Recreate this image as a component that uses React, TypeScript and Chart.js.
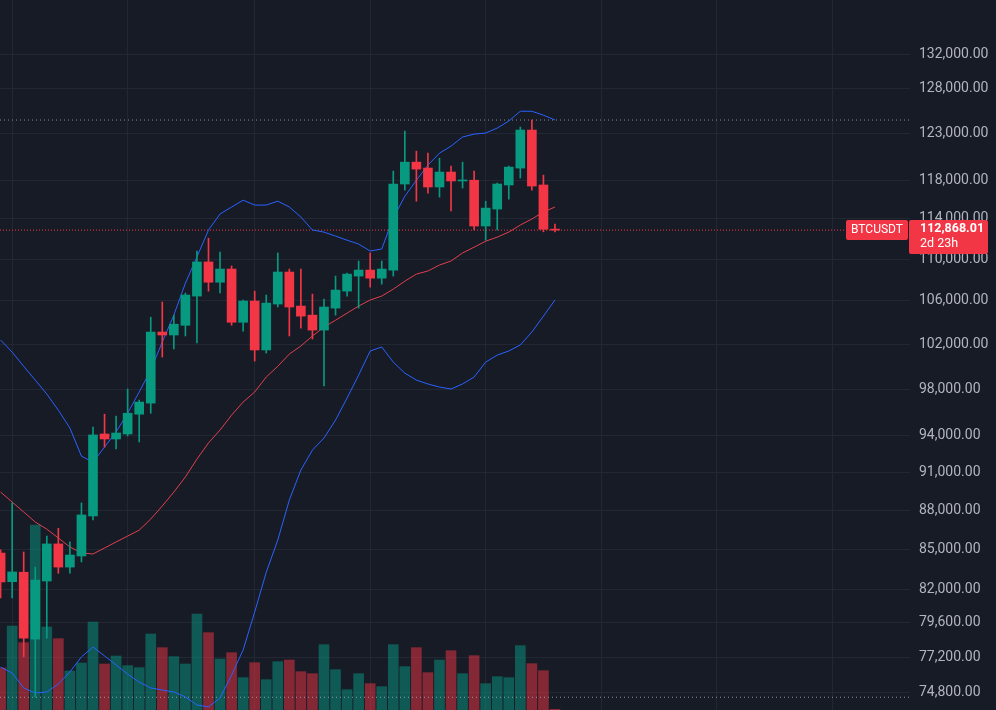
import React, { useEffect, useRef } from 'react';
import { Chart, registerables } from 'chart.js';

Chart.register(...registerables);

// ---- data (3-day candles, BTCUSDT) ----
const opens = [84700, 82570, 83270, 78460, 82620, 85390, 83650, 84480, 87540, 94160, 93740, 94160, 95830, 96780, 103090, 102820, 103710, 106440, 109720, 107760, 109030, 103990, 105970, 101460, 105690, 108740, 105500, 104650, 103270, 105310, 106910, 108350, 108930, 108150, 108930, 117590, 119900, 119270, 117280, 118850, 117910, 117990, 113280, 115000, 117490, 119270, 123370, 117490, 112950];
const highs = [84950, 88560, 84780, 83650, 85990, 86590, 85540, 88560, 94740, 95830, 95660, 98000, 97040, 104460, 105880, 104650, 106730, 110790, 112060, 110690, 109330, 106070, 106910, 106540, 110600, 109030, 109030, 106630, 106160, 108350, 108640, 109810, 110600, 109810, 118950, 123260, 121080, 120860, 120320, 119480, 119900, 118950, 115810, 117690, 119480, 123700, 124474, 118530, 113480];
const lows = [81380, 81380, 77230, 74508, 78530, 83190, 83190, 84030, 87230, 93070, 92910, 93990, 93490, 95910, 100820, 101550, 102730, 102090, 106910, 106730, 103710, 103180, 100460, 101180, 105410, 102730, 103440, 102450, 98260, 104650, 106440, 105310, 107290, 107570, 108350, 116960, 115810, 116650, 116230, 114800, 117170, 112880, 111860, 112880, 116020, 118220, 116960, 112700, 112700];
const closes = [82550, 83290, 78530, 82690, 85390, 83650, 84550, 87620, 94080, 93740, 94240, 95910, 96870, 103090, 102820, 103810, 106540, 109720, 107760, 109030, 103990, 105970, 101460, 105780, 108740, 105410, 104560, 103270, 105410, 107010, 108540, 108930, 108150, 109030, 117590, 119900, 119160, 117280, 118850, 117910, 117990, 113280, 115100, 117590, 119370, 123370, 117380, 112950, 112868.01];
// volume, thousand BTC
const volumes = [25.2, 50.4, 40.4, 111.0, 49.8, 42.8, 23.4, 28.2, 52.8, 27.6, 32.4, 26.6, 25.4, 45.6, 37.4, 32.0, 27.6, 57.6, 46.4, 30.6, 34.4, 19.4, 28.4, 18.2, 29.0, 30.0, 23.0, 21.8, 39.2, 24.2, 12.2, 21.8, 15.8, 14.0, 39.2, 26.0, 37.4, 22.4, 30.0, 35.6, 21.8, 32.6, 15.8, 20.0, 19.4, 38.6, 27.8, 23.6, 0.4];
const bbUpper = [102360, 101270, 100000, 98780, 97560, 96170, 94660, 92320, 91830, 93070, 94330, 95910, 97740, 99660, 102180, 104650, 107670, 110210, 112880, 114500, 115210, 115910, 115410, 115410, 115810, 115210, 114190, 112880, 112670, 112270, 111860, 111480, 110790, 110990, 114090, 116320, 117990, 119580, 120860, 121620, 122610, 122930, 123040, 123590, 124360, 125450, 125450, 125010, 124480];
const bbMiddle = [89420, 88630, 87850, 87070, 86520, 85840, 85160, 84710, 84630, 85080, 85540, 85990, 86440, 87300, 88320, 89420, 90630, 92080, 93410, 94490, 95750, 96870, 97740, 99050, 100000, 101090, 101820, 102730, 103540, 104180, 104840, 105500, 106070, 106440, 107100, 107860, 108540, 108840, 109420, 109810, 110600, 111170, 111760, 112170, 112670, 113380, 113990, 114700, 115210];
const bbLower = [76540, 76130, 75130, 74790, 74860, 75390, 76200, 77230, 77910, 77300, 76680, 76060, 75520, 75130, 74990, 74860, 74530, 74000, 73870, 74460, 75990, 77710, 80370, 83260, 85690, 88790, 91190, 92820, 93820, 95330, 97220, 99220, 101370, 101730, 100370, 99390, 98780, 98440, 98170, 98000, 98440, 99050, 100370, 101000, 101370, 101910, 103090, 104560, 106070];
const priceTicks = [132000, 128000, 123000, 118000, 114000, 110000, 106000, 102000, 98000, 94000, 91000, 88000, 85000, 82000, 79600, 77200, 74800];
const monthStartIndex = [1, 11, 22, 32, 42, 52, 62, 72];
const SYMBOL = 'BTCUSDT';
const LAST_PRICE = 112868.01;
const COUNTDOWN = '2d 23h';
const HIGH_LINE = 124474;
const LOW_LINE = 74508;

// ---- style ----
const BG = '#171b26';
const GRID = '#232733';
const UP = '#089981';
const DOWN = '#f23645';
const UP_VOL = 'rgba(8,153,129,0.5)';
const DOWN_VOL = 'rgba(242,54,69,0.5)';
const BAND = '#2962ff';
const BASIS = '#e0404c';
const TEXT = '#b2b5be';
const X_MIN = -0.052;
const X_MAX = 78.74;
const Y_MIN = 73669;
const Y_MAX = 138492;

const fmt = (v: number) =>
  Number(v).toLocaleString('en-US', { minimumFractionDigits: 2, maximumFractionDigits: 2 });

function roundRect(ctx: CanvasRenderingContext2D, x: number, y: number, w: number, h: number, r: number) {
  ctx.beginPath();
  ctx.moveTo(x + r, y);
  ctx.lineTo(x + w - r, y);
  ctx.quadraticCurveTo(x + w, y, x + w, y + r);
  ctx.lineTo(x + w, y + h - r);
  ctx.quadraticCurveTo(x + w, y + h, x + w - r, y + h);
  ctx.lineTo(x + r, y + h);
  ctx.quadraticCurveTo(x, y + h, x, y + h - r);
  ctx.lineTo(x, y + r);
  ctx.quadraticCurveTo(x, y, x + r, y);
  ctx.closePath();
}

const bgPlugin = {
  id: 'bg',
  beforeDraw(chart: any) {
    const { ctx, width, height } = chart;
    ctx.save();
    ctx.fillStyle = BG;
    ctx.fillRect(0, 0, width, height);
    ctx.restore();
  },
};

const labelPlugin = {
  id: 'priceLabel',
  afterDraw(chart: any) {
    const { ctx, scales, chartArea } = chart;
    const y = scales.y.getPixelForValue(LAST_PRICE);
    const r = chartArea.right;
    ctx.save();
    ctx.fillStyle = DOWN;
    roundRect(ctx, r - 64, y - 10, 62, 20, 2);
    ctx.fill();
    roundRect(ctx, r - 1, y - 10, 79, 34, 2);
    ctx.fill();
    ctx.fillStyle = '#ffffff';
    ctx.textBaseline = 'middle';
    ctx.textAlign = 'center';
    ctx.font = '12px Roboto';
    ctx.fillText(SYMBOL, r - 33, y);
    ctx.textAlign = 'left';
    ctx.font = 'bold 12.5px Roboto';
    ctx.fillText(fmt(LAST_PRICE), r + 10, y - 1.5);
    ctx.font = '12.5px Roboto';
    ctx.fillText(COUNTDOWN, r + 10, y + 13.5);
    ctx.restore();
  },
};

export default function App() {
  const ref = useRef<HTMLCanvasElement>(null);
  useEffect(() => {
    document.body.style.margin = '0';
    document.body.style.background = BG;
    const idx = opens.map((_, i) => i);
    const isUp = idx.map((i) => closes[i] >= opens[i]);
    const candleColors = isUp.map((u) => (u ? UP : DOWN));
    const volColors = isUp.map((u) => (u ? UP_VOL : DOWN_VOL));
    const hline = (v: number) => [
      { x: X_MIN, y: v },
      { x: X_MAX, y: v },
    ];
    const chart = new Chart(ref.current as HTMLCanvasElement, {
      type: 'bar',
      data: {
        datasets: [
          {
            type: 'bar',
            label: 'body',
            data: idx.map((i) => ({ x: i, y: [opens[i], closes[i]] })) as any,
            backgroundColor: candleColors,
            barThickness: 9,
            minBarLength: 1,
            grouped: false,
            borderWidth: 0,
            yAxisID: 'y',
            order: 1,
          } as any,
          {
            type: 'bar',
            label: 'wick',
            data: idx.map((i) => ({ x: i, y: [lows[i], highs[i]] })) as any,
            backgroundColor: candleColors,
            barThickness: 1,
            grouped: false,
            borderWidth: 0,
            yAxisID: 'y',
            order: 2,
          } as any,
          {
            type: 'line',
            label: 'upper',
            data: idx.map((i) => ({ x: i, y: bbUpper[i] })),
            borderColor: BAND,
            borderWidth: 1,
            pointRadius: 0,
            tension: 0,
            yAxisID: 'y',
            order: 3,
          },
          {
            type: 'line',
            label: 'basis',
            data: idx.map((i) => ({ x: i, y: bbMiddle[i] })),
            borderColor: BASIS,
            borderWidth: 1,
            pointRadius: 0,
            tension: 0,
            yAxisID: 'y',
            order: 3,
          },
          {
            type: 'line',
            label: 'lower',
            data: idx.map((i) => ({ x: i, y: bbLower[i] })),
            borderColor: BAND,
            borderWidth: 1,
            pointRadius: 0,
            tension: 0,
            yAxisID: 'y',
            order: 3,
          },
          {
            type: 'line',
            label: 'high',
            data: hline(HIGH_LINE),
            borderColor: 'rgba(178,181,190,0.75)',
            borderWidth: 1,
            borderDash: [1, 3],
            pointRadius: 0,
            yAxisID: 'y',
            order: 4,
          },
          {
            type: 'line',
            label: 'low',
            data: hline(LOW_LINE),
            borderColor: 'rgba(178,181,190,0.75)',
            borderWidth: 1,
            borderDash: [1, 3],
            pointRadius: 0,
            yAxisID: 'y',
            order: 4,
          },
          {
            type: 'line',
            label: 'last',
            data: hline(LAST_PRICE),
            borderColor: DOWN,
            borderWidth: 1,
            borderDash: [1, 2],
            pointRadius: 0,
            yAxisID: 'y',
            order: 4,
          },
          {
            type: 'bar',
            label: 'volume',
            data: idx.map((i) => ({ x: i, y: volumes[i] })),
            backgroundColor: volColors,
            barThickness: 10,
            grouped: false,
            borderWidth: 0,
            yAxisID: 'yv',
            order: 5,
          } as any,
        ],
      },
      options: {
        responsive: false,
        devicePixelRatio: 1,
        animation: false,
        events: [],
        layout: { padding: 0, autoPadding: false },
        plugins: { legend: { display: false }, tooltip: { enabled: false } },
        scales: {
          x: {
            type: 'linear',
            min: X_MIN,
            max: X_MAX,
            offset: false,
            bounds: 'data',
            afterBuildTicks: (s: any) => {
              s.ticks = monthStartIndex.map((v) => ({ value: v }));
            },
            afterFit: (s: any) => {
              s.height = 0;
              s.paddingLeft = 0;
              s.paddingRight = 0;
            },
            ticks: { display: false },
            grid: { color: GRID, drawTicks: false, offset: false },
            border: { display: false },
          },
          y: {
            type: 'logarithmic',
            position: 'right',
            min: Y_MIN,
            max: Y_MAX,
            offset: false,
            bounds: 'data',
            afterBuildTicks: (s: any) => {
              s.ticks = priceTicks.map((v) => ({ value: v }));
            },
            afterFit: (s: any) => {
              s.width = 86;
              s.paddingTop = 0;
              s.paddingBottom = 0;
            },
            ticks: {
              autoSkip: false,
              color: TEXT,
              padding: 9,
              crossAlign: 'near',
              font: { family: 'Roboto', size: 14 },
              callback: (v: any) => fmt(Number(v)),
            },
            grid: { color: GRID, drawTicks: false },
            border: { display: false },
          },
          yv: {
            type: 'linear',
            display: false,
            offset: false,
            min: 0,
            max: 426,
          },
        },
      } as any,
      plugins: [bgPlugin, labelPlugin],
    });
    return () => chart.destroy();
  }, []);
  return (
    <canvas
      ref={ref}
      width={996}
      height={710}
      style={{ display: 'block', width: '996px', height: '710px' }}
    />
  );
}
